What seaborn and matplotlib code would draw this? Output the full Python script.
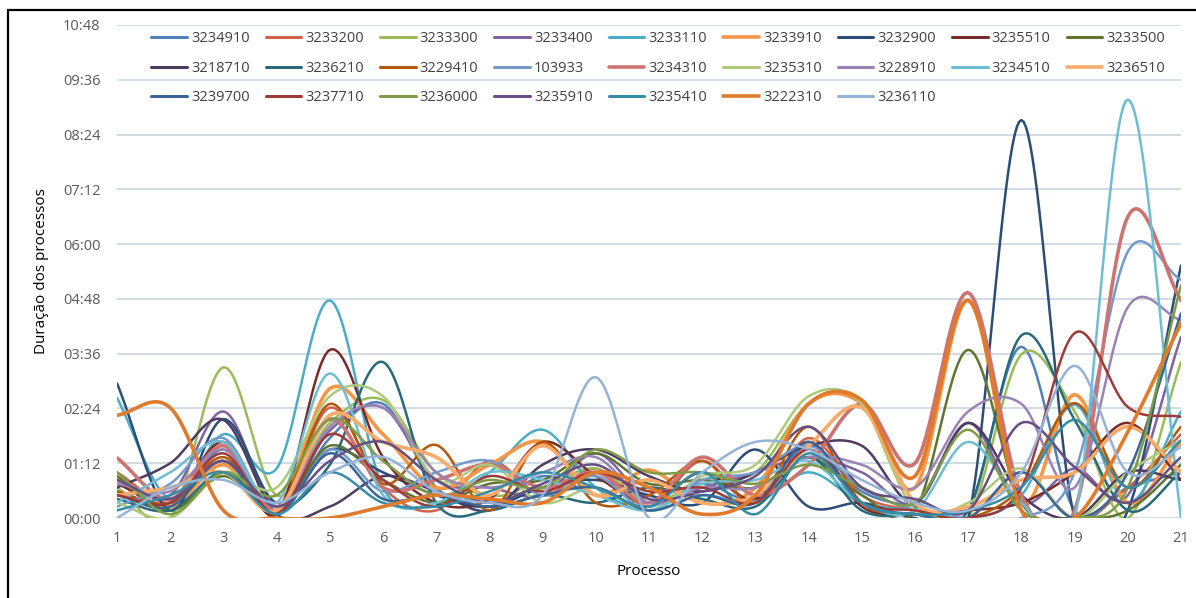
import numpy as np
import pandas as pd
import matplotlib
matplotlib.use("Agg")
import matplotlib.pyplot as plt
import matplotlib.patches as mpatches
from matplotlib.lines import Line2D
import seaborn as sns

# Process index (x axis)
processos = list(range(1, 22))

# Duration of each process, in minutes, per job id
d3234910 = [35, 15, 90, 10, 105, 150, 40, 15, 55, 30, 15, 45, 25, 95, 35, 15, 10, 225, 10, 40, 60]
d3233200 = [60, 20, 75, 5, 145, 40, 10, 75, 30, 65, 15, 75, 20, 105, 30, 10, 0, 60, 0, 40, 110]
d3233300 = [40, 0, 198, 30, 125, 155, 60, 30, 40, 65, 20, 50, 60, 150, 155, 20, 0, 215, 140, 0, 205]
d3233400 = [50, 30, 140, 15, 115, 145, 50, 40, 30, 85, 25, 40, 60, 80, 60, 20, 125, 20, 65, 30, 238]
d3233110 = [158, 25, 110, 65, 286, 40, 20, 60, 116, 40, 10, 30, 20, 60, 20, 10, 0, 30, 149, 20, 140]
d3233910 = [50, 15, 70, 10, 170, 110, 40, 70, 100, 30, 63, 20, 40, 150, 150, 40, 286, 20, 162, 20, 100]
d3232900 = [177, 10, 130, 20, 90, 60, 30, 15, 40, 50, 30, 20, 90, 15, 20, 0, 0, 523, 0, 10, 332]
d3235510 = [45, 20, 100, 5, 221, 80, 20, 25, 100, 55, 20, 60, 25, 100, 15, 5, 10, 20, 60, 125, 50]
d3233500 = [55, 10, 55, 10, 95, 50, 20, 45, 50, 85, 45, 50, 40, 80, 30, 10, 221, 20, 0, 10, 70]
d3218710 = [40, 72, 129, 5, 15, 55, 35, 10, 70, 90, 55, 35, 60, 95, 95, 20, 125, 30, 0, 60, 50]
d3236210 = [25, 10, 60, 10, 70, 205, 20, 10, 30, 20, 40, 25, 15, 80, 10, 5, 10, 240, 129, 10, 60]
d3229410 = [35, 20, 80, 10, 150, 45, 96, 10, 100, 20, 30, 75, 20, 120, 20, 5, 0, 40, 151, 40, 120]
d103933 = [15, 45, 105, 5, 90, 35, 60, 75, 30, 55, 10, 50, 60, 95, 40, 10, 0, 0, 60, 350, 313]
d3234310 = [79, 25, 95, 10, 130, 40, 50, 70, 40, 60, 20, 80, 30, 70, 150, 72, 296, 30, 10, 396, 286]
d3235310 = [20, 0, 60, 40, 160, 160, 50, 70, 20, 40, 10, 55, 70, 160, 150, 10, 20, 65, 0, 60, 102]
d3228910 = [45, 35, 90, 15, 120, 145, 60, 40, 60, 80, 20, 40, 40, 80, 70, 40, 140, 150, 40, 277, 260]
d3234510 = [20, 60, 100, 20, 190, 30, 20, 60, 50, 30, 10, 45, 50, 75, 20, 10, 100, 20, 0, 550, 0]
d3236510 = [30, 40, 60, 10, 135, 100, 80, 30, 95, 30, 50, 20, 30, 95, 145, 20, 15, 50, 60, 120, 60]
d3239700 = [30, 15, 75, 5, 85, 25, 30, 15, 30, 40, 10, 30, 20, 100, 20, 5, 0, 60, 0, 60, 269]
d3237710 = [30, 20, 85, 5, 110, 50, 15, 55, 35, 60, 35, 40, 20, 90, 20, 10, 0, 40, 243, 146, 133]
d3236000 = [60, 5, 60, 30, 130, 75, 30, 50, 40, 90, 60, 60, 45, 70, 40, 20, 116, 10, 0, 40, 306]
d3235910 = [50, 25, 75, 15, 75, 100, 50, 20, 45, 70, 25, 35, 55, 120, 40, 25, 10, 125, 67, 20, 80]
d3235410 = [10, 30, 60, 5, 60, 20, 15, 35, 60, 40, 15, 60, 5, 85, 20, 5, 10, 41, 129, 40, 102]
d3222310 = [135, 145, 10, 0, 0, 15, 30, 25, 20, 60, 40, 5, 30, 150, 155, 55, 286, 10, 0, 113, 256]
d3236110 = [0, 40, 50, 20, 60, 80, 35, 20, 30, 185, 0, 60, 100, 90, 50, 20, 10, 60, 200, 60, 93]

series_ids = ["3234910", "3233200", "3233300", "3233400", "3233110", "3233910",
              "3232900", "3235510", "3233500", "3218710", "3236210", "3229410",
              "103933", "3234310", "3235310", "3228910", "3234510", "3236510",
              "3239700", "3237710", "3236000", "3235910", "3235410", "3222310",
              "3236110"]
series_values = [d3234910, d3233200, d3233300, d3233400, d3233110, d3233910,
                 d3232900, d3235510, d3233500, d3218710, d3236210, d3229410,
                 d103933, d3234310, d3235310, d3228910, d3234510, d3236510,
                 d3239700, d3237710, d3236000, d3235910, d3235410, d3222310,
                 d3236110]

palette = ["#4F81BD", "#D0624A", "#9BBB59", "#8064A2", "#4BACC6", "#F79646",
           "#2C4D75", "#772C2A", "#5F7530", "#4D3B62", "#276A7C", "#B65708",
           "#729ACA", "#CD7371", "#AFC97A", "#9983B5", "#6FBDD1", "#F9AB6B",
           "#3A6595", "#9E3A38", "#7E9C47", "#664F83", "#358DA5", "#E07B2E",
           "#95B3D7"]

# a few series are drawn with a heavier stroke
heavy = {"3233910", "3222310", "3234310", "3236510"}


def smooth(xs, ys, n=24):
    """Catmull-Rom style smoothed curve through the points (spreadsheet 'smoothed line')."""
    xs = np.asarray(xs, float)
    ys = np.asarray(ys, float)
    m = np.zeros_like(ys)
    m[1:-1] = (ys[2:] - ys[:-2]) / 2.0
    m[0] = ys[1] - ys[0]
    m[-1] = ys[-1] - ys[-2]
    out_x, out_y = [], []
    for i in range(len(xs) - 1):
        t = np.linspace(0, 1, n, endpoint=False)
        h00 = 2 * t**3 - 3 * t**2 + 1
        h10 = t**3 - 2 * t**2 + t
        h01 = -2 * t**3 + 3 * t**2
        h11 = t**3 - t**2
        out_x.append(xs[i] + t * (xs[i + 1] - xs[i]))
        out_y.append(h00 * ys[i] + h10 * m[i] + h01 * ys[i + 1] + h11 * m[i + 1])
    out_x.append([xs[-1]])
    out_y.append([ys[-1]])
    return np.concatenate(out_x), np.concatenate(out_y)


frames = []
for sid, vals in zip(series_ids, series_values):
    sx, sy = smooth(processos, vals)
    frames.append(pd.DataFrame({"Processo": sx, "Duracao": sy, "Id": sid}))
df = pd.concat(frames, ignore_index=True)

sns.set_theme(style="white")
plt.rcParams["font.family"] = ["Open Sans", "DejaVu Sans"]

fig = plt.figure(figsize=(11.96, 5.98), dpi=100)
ax = fig.add_axes([117 / 1196, 1 - 518 / 598, (1181 - 117) / 1196, (518 - 25) / 598])

sns.lineplot(data=df, x="Processo", y="Duracao", hue="Id", hue_order=series_ids,
             palette=palette, sort=False, estimator=None, units="Id",
             linewidth=1.8, legend=False, ax=ax)
for line, sid in zip(ax.lines, series_ids):
    if sid in heavy:
        line.set_linewidth(2.6)

ax.set_xlim(1, 21)
ax.set_ylim(0, 648)
yticks = np.arange(0, 649, 72)
ax.set_yticks(yticks)
ax.set_yticklabels([f"{int(v)//60:02d}:{int(v)%60:02d}" for v in yticks])
ax.set_xticks(processos)
ax.set_xticklabels([str(p) for p in processos])
ax.tick_params(axis="both", colors="#595959", labelsize=10.5, length=0)
ax.tick_params(axis="y", pad=12)
ax.tick_params(axis="x", pad=9)
ax.yaxis.grid(True, color="#CFD8E0", linewidth=1.3)
ax.xaxis.grid(False)
ax.set_axisbelow(True)
for sp in ax.spines.values():
    sp.set_visible(False)

ax.set_xlabel("Processo", fontsize=11, color="black", labelpad=13)
ax.set_ylabel("Duração dos processos", fontsize=11, color="black", labelpad=10)

# legend laid out row by row (9 per row), matplotlib fills column by column
ncol = 9
n = len(series_ids)
nrows = -(-n // ncol)
full_cols = n - (nrows - 1) * ncol
order = []
for c in range(ncol):
    rows = nrows if c < full_cols else nrows - 1
    for r in range(rows):
        order.append(r * ncol + c)
handles = [Line2D([0], [0], color=palette[i], lw=2.6 if series_ids[i] in heavy else 2.2)
           for i in order]
labels = [series_ids[i] for i in order]
fig.legend(handles, labels, ncol=ncol, loc="upper left",
           bbox_to_anchor=(144 / 1196, 1 - 24 / 598), frameon=False,
           fontsize=10.5, handlelength=2.45, handletextpad=0.27,
           columnspacing=1.1, labelspacing=1.0, borderpad=0,
           labelcolor="#404040")

# outer frame
fig.add_artist(mpatches.Rectangle((8 / 1196, -0.5), 2.0, 0.5 + (1 - 10 / 598),
                                  transform=fig.transFigure, fill=False,
                                  edgecolor="black", linewidth=1.6))

fig.savefig("out.png", dpi=100)
